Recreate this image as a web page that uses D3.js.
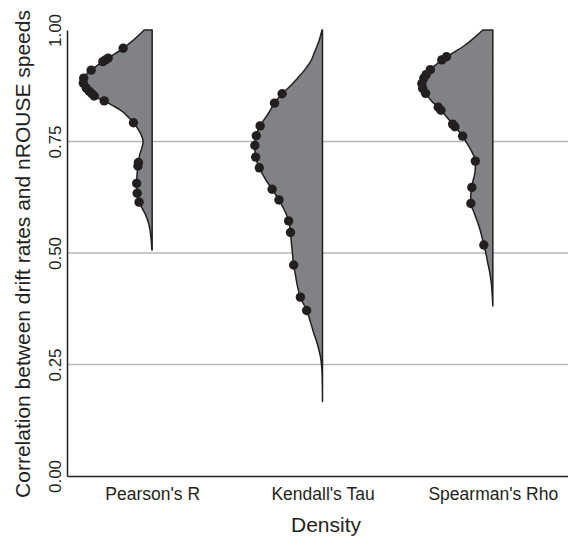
<!DOCTYPE html>
<html>
<head>
<meta charset="utf-8">
<script src="https://cdn.jsdelivr.net/npm/d3@7"></script>
<style>
  html, body { margin: 0; padding: 0; background: #fff; }
  svg { display: block; font-family: "Liberation Sans", Arial, Helvetica, sans-serif; }
</style>
</head>
<body>
<svg id="chart" width="568" height="541"></svg>
<script>
// ---------- data ----------
const categories = ["Pearson's R", "Kendall's Tau", "Spearman's Rho"];
const yTicks = [0, 0.25, 0.5, 0.75, 1];
const gridValues = [0.25, 0.5, 0.75];
const xTitle = "Density";
const yTitle = "Correlation between drift rates and nROUSE speeds";

// density outlines (correlation value, density)
const pearsonValues = [1.000, 0.975, 0.959, 0.940, 0.925, 0.910, 0.895, 0.885, 0.875, 0.865, 0.850, 0.840, 0.830, 0.821, 0.805, 0.793, 0.777, 0.765, 0.750, 0.738, 0.720, 0.700, 0.680, 0.656, 0.634, 0.613, 0.600, 0.585, 0.570, 0.552, 0.530, 0.507];
const pearsonDensity = [0.80, 2.00, 2.90, 4.20, 5.20, 6.10, 6.80, 6.95, 6.80, 6.40, 5.70, 4.70, 3.90, 3.20, 2.40, 1.90, 1.40, 1.10, 0.90, 1.00, 1.25, 1.40, 1.50, 1.55, 1.50, 1.30, 1.00, 0.65, 0.40, 0.22, 0.10, 0.03];

const kendallValues = [1.000, 0.974, 0.950, 0.929, 0.910, 0.892, 0.875, 0.858, 0.836, 0.810, 0.787, 0.766, 0.744, 0.716, 0.690, 0.665, 0.645, 0.621, 0.600, 0.574, 0.546, 0.520, 0.499, 0.475, 0.450, 0.425, 0.400, 0.372, 0.345, 0.320, 0.295, 0.267, 0.245, 0.220, 0.195, 0.167];
const kendallDensity = [0.05, 0.37, 0.80, 1.20, 1.80, 2.50, 3.20, 4.00, 4.80, 5.50, 6.20, 6.60, 6.77, 6.70, 6.30, 5.70, 5.10, 4.40, 3.90, 3.40, 3.20, 3.10, 3.00, 2.90, 2.70, 2.50, 2.20, 1.60, 1.20, 0.87, 0.50, 0.20, 0.08, 0.03, 0.01, 0.00];

const spearmanValues = [1.000, 0.980, 0.963, 0.950, 0.935, 0.920, 0.910, 0.895, 0.880, 0.867, 0.854, 0.840, 0.828, 0.810, 0.791, 0.778, 0.765, 0.750, 0.735, 0.720, 0.709, 0.695, 0.679, 0.660, 0.647, 0.630, 0.611, 0.595, 0.574, 0.550, 0.518, 0.500, 0.477, 0.455, 0.432, 0.410, 0.381];
const spearmanDensity = [1.00, 2.00, 2.97, 3.90, 5.00, 5.80, 6.30, 6.85, 7.10, 7.00, 6.60, 6.10, 5.50, 4.80, 4.10, 3.60, 3.10, 2.70, 2.30, 1.95, 1.75, 1.75, 1.80, 2.00, 2.10, 2.20, 2.20, 1.95, 1.60, 1.25, 0.90, 0.70, 0.50, 0.30, 0.15, 0.07, 0.00];

// observed correlations (points)
const pearsonPoints = [0.959, 0.937, 0.933, 0.929, 0.910, 0.892, 0.881, 0.870, 0.863, 0.857, 0.852, 0.841, 0.792, 0.703, 0.695, 0.656, 0.634, 0.614];
const kendallPoints = [0.857, 0.836, 0.785, 0.763, 0.741, 0.715, 0.691, 0.643, 0.619, 0.572, 0.546, 0.473, 0.401, 0.371];
const spearmanPoints = [0.940, 0.933, 0.911, 0.900, 0.892, 0.880, 0.869, 0.858, 0.827, 0.820, 0.789, 0.783, 0.762, 0.706, 0.647, 0.611, 0.518];

const series = [
  { name: categories[0], values: pearsonValues, density: pearsonDensity, points: pearsonPoints },
  { name: categories[1], values: kendallValues, density: kendallDensity, points: kendallPoints },
  { name: categories[2], values: spearmanValues, density: spearmanDensity, points: spearmanPoints }
];

// ---------- layout ----------
const W = 568, H = 541;
const plot = { left: 67, top: 30, bottom: 476, right: 578 };
const ink = "#231f20";
const violinFill = "#818285";
const gridColor = "#b6b6b8";

const svg = d3.select("#chart");

const y = d3.scaleLinear().domain([0, 1]).range([plot.bottom, plot.top]);
const x = d3.scalePoint().domain(categories).range([plot.left, plot.right]).padding(0.5);
const w = d3.scaleLinear().domain([0, 7]).range([0, 70]);

// grid
svg.append("g").selectAll("line").data(gridValues).join("line")
  .attr("x1", plot.left).attr("x2", W)
  .attr("y1", d => y(d)).attr("y2", d => y(d))
  .attr("stroke", gridColor).attr("stroke-width", 1.3);

// violins
series.forEach(s => {
  const cx = x(s.name);
  const rows = s.values.map((v, i) => ({ v, d: s.density[i] }));
  const area = d3.area()
    .y(r => y(r.v))
    .x0(cx)
    .x1(r => cx - w(r.d))
    .curve(d3.curveMonotoneY);
  svg.append("path")
    .datum(rows)
    .attr("d", area)
    .attr("fill", violinFill)
    .attr("stroke", ink)
    .attr("stroke-width", 1.5)
    .attr("stroke-linejoin", "round");

  // density lookup for point placement
  const order = d3.range(s.values.length).sort((a, b) => s.values[a] - s.values[b]);
  const dens = d3.scaleLinear()
    .domain(order.map(i => s.values[i]))
    .range(order.map(i => s.density[i]))
    .clamp(true);

  svg.append("g").selectAll("circle").data(s.points).join("circle")
    .attr("cx", v => cx - w(dens(v)))
    .attr("cy", v => y(v))
    .attr("r", 4.7)
    .attr("fill", ink);
});

// y axis
const yAxis = svg.append("g")
  .attr("transform", `translate(${plot.left},0)`)
  .call(d3.axisLeft(y).tickValues(yTicks).tickSize(0).tickSizeOuter(0).tickFormat(d3.format(".2f")));
yAxis.select(".domain").attr("stroke", ink).attr("stroke-width", 1.5);
yAxis.selectAll(".tick text")
  .attr("x", null).attr("dy", null)
  .attr("transform", "translate(-6,0) rotate(-90)")
  .attr("text-anchor", "middle")
  .attr("fill", ink)
  .style("font-size", "17px")
  .style("font-family", "'Liberation Sans', Arial, sans-serif");

// x axis
const xAxis = svg.append("g")
  .attr("transform", `translate(0,${plot.bottom})`)
  .call(d3.axisBottom(x).tickSize(0).tickSizeOuter(0));
xAxis.select(".domain").attr("stroke", ink).attr("stroke-width", 1.5);
xAxis.selectAll(".tick text")
  .attr("y", 24).attr("dy", null)
  .attr("fill", ink)
  .style("font-size", "17.5px")
  .style("font-family", "'Liberation Sans', Arial, sans-serif");

// titles
svg.append("text")
  .attr("x", 326).attr("y", 532)
  .attr("text-anchor", "middle")
  .attr("fill", ink)
  .style("font-size", "21px")
  .text(xTitle);

svg.append("text")
  .attr("transform", `translate(29.5,${(plot.top + plot.bottom) / 2 + 1}) rotate(-90)`)
  .attr("text-anchor", "middle")
  .attr("fill", ink)
  .style("font-size", "21px")
  .text(yTitle);
</script>
</body>
</html>
